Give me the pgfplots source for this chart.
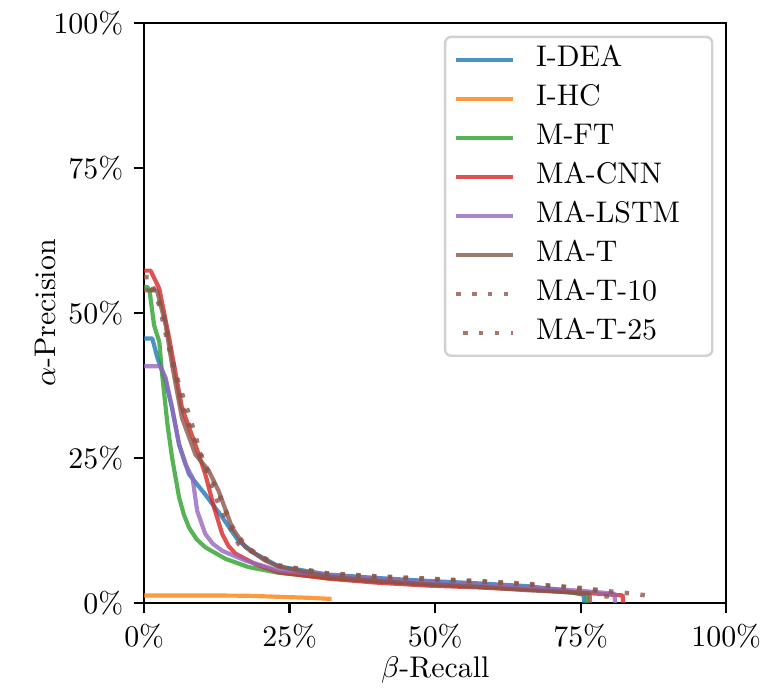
\documentclass[border=0pt]{standalone}
\usepackage{pgfplots}
\pgfplotsset{compat=1.18}
\definecolor{tabblue}{HTML}{1F77B4}
\definecolor{taborange}{HTML}{FF7F0E}
\definecolor{tabgreen}{HTML}{2CA02C}
\definecolor{tabred}{HTML}{D62728}
\definecolor{tabpurple}{HTML}{9467BD}
\definecolor{tabbrown}{HTML}{8C564B}
\begin{document}
\begin{tikzpicture}
\begin{axis}[
  scale only axis,
  width=195pt, height=194.3pt,
  xmin=0, xmax=100, ymin=0, ymax=100,
  xtick={0,25,50,75,100}, ytick={0,25,50,75,100},
  xticklabel={$\pgfmathprintnumber{\tick}\%$},
  yticklabel={$\pgfmathprintnumber{\tick}\%$},
  tick align=outside, tick pos=left,
  major tick length=3.5pt,
  axis line style={line width=0.8pt},
  every tick/.style={black, line width=0.8pt},
  xlabel={$\beta$-Recall}, ylabel={$\alpha$-Precision},
  xlabel shift=-4pt, ylabel shift=-7.5pt,
  legend cell align=left,
  legend image code/.code={\draw[#1] (0pt,0pt) -- (19pt,0pt);},
  legend style={at={(rel axis cs:0.978,0.978)}, anchor=north east,
    draw=black!18, line width=0.8pt, rounded corners=2pt, fill=white, fill opacity=0.8, text opacity=1,
    inner xsep=3pt, inner ysep=3pt, row sep=3.77pt, column sep=7pt,
    nodes={inner sep=0pt, text height=7pt, text depth=2.3pt}},
  every axis plot/.append style={line width=1.4pt, opacity=0.8, line join=round},
]
\addplot[tabblue] coordinates {(0,45.6) (1.4,45.6) (2.3,42.2) (3.7,38.2) (4.8,33.6) (6,27.3) (7.7,22.2) (10.5,18.7) (13.4,14.8) (16.2,10.7) (19.1,8.5) (23.1,6.3) (31.6,4.9) (40,4.3) (48.7,3.8) (57,3.4) (65.8,2.9) (72,2.2) (75.5,1.4) (75.6,0)};
\addlegendentry{\makebox[56pt][l]{I-DEA}}
\addplot[taborange] coordinates {(0,1.3) (10,1.3) (17.4,1.25) (22,1.1) (28,0.9) (32.2,0.7)};
\addlegendentry{I-HC}
\addplot[tabgreen] coordinates {(0,54.5) (0.5,54.5) (0.9,54) (1.7,47.9) (2.6,45) (3.1,39.3) (4,30.8) (4.8,25) (6,18.2) (6.8,15.3) (7.7,13) (9,11) (10.5,9.6) (14,7.6) (17.9,6.2) (23.1,5.2) (31.6,4.3) (40,3.7) (48.7,3.2) (57,2.9) (65.8,2.4) (72,1.9) (76,1.5) (76.1,0)};
\addlegendentry{M-FT}
\addplot[tabred] coordinates {(0,57.3) (1.1,57.3) (2.6,54.2) (4.3,45.6) (6.5,33.6) (8.8,27.3) (10.5,22.2) (12,16.5) (13.4,11.9) (14.5,9.8) (15.7,8.5) (19.1,6.7) (23.1,5.3) (31.6,4.2) (40,3.5) (48.7,3.0) (57,2.7) (65.8,2.3) (75,1.8) (82.2,1.3) (82.3,0)};
\addlegendentry{MA-CNN}
\addplot[tabpurple] coordinates {(0,40.8) (2.8,40.8) (3.7,38.8) (4.8,33.6) (6,27.3) (7.1,23.9) (8.3,21.6) (9.1,15.9) (10.5,11.9) (11.8,10.2) (13.4,9) (17.4,7.3) (23.1,5.6) (31.6,4.8) (40,4.2) (48.7,3.6) (57,3.2) (65.8,2.7) (75,2.1) (80.8,1.6) (80.9,0)};
\addlegendentry{MA-LSTM}
\addplot[tabbrown] coordinates {(0,53.9) (2.2,53.9) (3.7,47.9) (4.8,41) (6.5,31.9) (8.8,25.6) (11.1,22.8) (12.8,19.3) (15.1,13) (17.4,9.6) (20.8,7.3) (23.1,6.3) (31.6,4.5) (40,3.8) (48.7,3.2) (57,2.8) (65.8,2.2) (72,1.9) (76.5,1.7) (76.6,0)};
\addlegendentry{MA-T}
\addplot[tabbrown, line width=1.5pt, dash pattern=on 1.5pt off 3.8pt] coordinates {(0,56.2) (1,56.2) (2.6,51.3) (4.3,43.8) (6,37.6) (7.7,32.5) (9.4,26.8) (11.1,21.4) (12.8,17) (16.2,10.2) (19.1,8.5) (23.1,6.5) (31.6,5.1) (40,4.6) (48.7,4.2) (57,3.8) (65.8,3.3) (72,2.8) (79.4,1.9) (79.5,0)};
\addlegendentry{MA-T-10}
\addplot[tabbrown, line width=1.5pt, dash pattern=on 1.5pt off 3.8pt, dash phase=3pt] coordinates {(0,54) (2,54) (3.7,48.5) (4.8,42) (6.5,34) (8.8,27.5) (11.1,22.5) (12.8,19) (15.1,13.2) (17.4,9.8) (20.8,7.5) (23.1,6.4) (31.6,5.0) (40,4.5) (48.7,4.1) (57,3.7) (65.8,3.2) (75,2.6) (80,2.0) (84,1.6) (87,1.2)};
\addlegendentry{MA-T-25}
\end{axis}
\path (-48.3pt,-28.3pt) rectangle (208.7pt,202pt);
\end{tikzpicture}
\end{document}
